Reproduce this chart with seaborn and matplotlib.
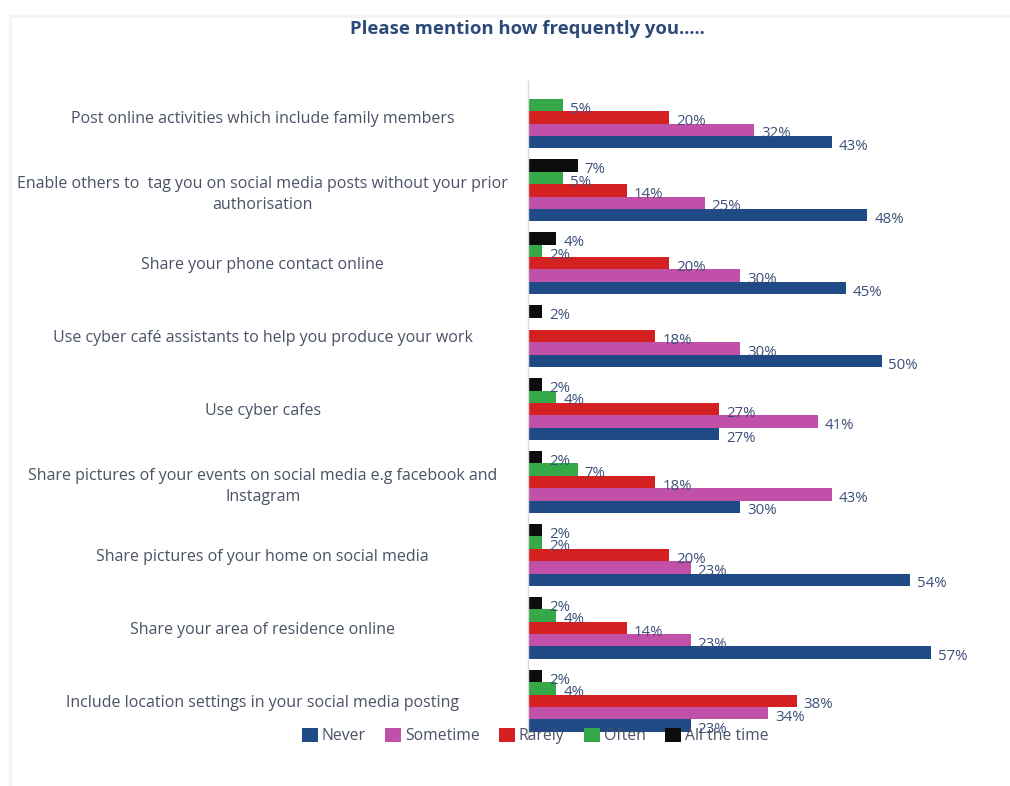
import matplotlib
matplotlib.use("Agg")
import matplotlib.pyplot as plt
from matplotlib.patches import Patch, Rectangle
import pandas as pd
import seaborn as sns

# Survey items, top to bottom
items = [
    "Post online activities which include family members",
    "Enable others to  tag you on social media posts without your prior\nauthorisation",
    "Share your phone contact online",
    "Use cyber café assistants to help you produce your work",
    "Use cyber cafes",
    "Share pictures of your events on social media e.g facebook and\nInstagram",
    "Share pictures of your home on social media",
    "Share your area of residence online",
    "Include location settings in your social media posting",
]

# Percent of respondents per answer (None = no response in that category)
never     = [43, 48, 45, 50, 27, 30, 54, 57, 23]
sometime  = [32, 25, 30, 30, 41, 43, 23, 23, 34]
rarely    = [20, 14, 20, 18, 27, 18, 20, 14, 38]
often     = [5, 5, 2, None, 4, 7, 2, 4, 4]
all_time  = [None, 7, 4, 2, 2, 2, 2, 2, 2]

answers = ["Never", "Sometime", "Rarely", "Often", "All the time"]
colors = {
    "Never": "#1f4a86",
    "Sometime": "#c050a8",
    "Rarely": "#d42020",
    "Often": "#35a847",
    "All the time": "#0d0d0d",
}

rows = []
for ans, vals in zip(answers, [never, sometime, rarely, often, all_time]):
    for item, v in zip(items, vals):
        if v is not None:
            rows.append({"item": item, "answer": ans, "pct": v})
df = pd.DataFrame(rows)

sns.set_theme(style="white")
plt.rcParams["font.family"] = ["Open Sans", "DejaVu Sans"]

fig = plt.figure(figsize=(10.1, 7.86), dpi=100)
fig.patch.set_facecolor("white")
# faint frame around the chart area
fig.add_artist(Rectangle((0.010, -0.05), 1.2, 1.03, transform=fig.transFigure,
                         fill=False, edgecolor="#f3f3f3", linewidth=2))

ax = fig.add_axes([0.5228, 0.062, 0.462, 0.835])

stack_order = ["All the time", "Often", "Rarely", "Sometime", "Never"]
sns.barplot(data=df, y="item", x="pct", hue="answer", order=items,
            hue_order=stack_order, palette=colors, orient="h",
            width=0.85, errorbar=None, legend=False, ax=ax,
            saturation=1, edgecolor="none", linewidth=0)

ax.set_xlim(0, 66)
ax.set_ylim(len(items) - 0.5, -0.5)
ax.set_xlabel("")
ax.set_ylabel("")
ax.set_xticks([])
for side in ["top", "right", "bottom"]:
    ax.spines[side].set_visible(False)
ax.spines["left"].set_color("#d9d9d9")
ax.spines["left"].set_linewidth(1)

# Category labels centred in the left margin
ax.tick_params(axis="y", length=0, pad=191)
for lab in ax.get_yticklabels():
    lab.set_horizontalalignment("center")
    lab.set_multialignment("center")
    lab.set_fontsize(11.5)
    lab.set_color("#4a5266")
    lab.set_linespacing(1.4)

# Value labels just past each bar end
for cont in ax.containers:
    anns = ax.bar_label(cont, fmt="%g%%", padding=6, fontsize=10.8,
                        color="#3d4f78")
    for a in anns:
        a.xyann = (5, -3)

fig.text(0.522, 0.963, "Please mention how frequently you.....",
         ha="center", va="center", fontsize=13.3, fontweight="bold",
         color="#2b4a7a")

handles = [Patch(facecolor=colors[a], edgecolor="none", label=a) for a in answers]
leg = fig.legend(handles=handles, loc="center", bbox_to_anchor=(0.530, 0.0635),
                 ncol=5, frameon=False, fontsize=11.3, handlelength=1.0,
                 handleheight=1.0, handletextpad=0.25, columnspacing=1.25)
for t in leg.get_texts():
    t.set_color("#4a5266")

fig.savefig("out.png", dpi=100, facecolor="white")
